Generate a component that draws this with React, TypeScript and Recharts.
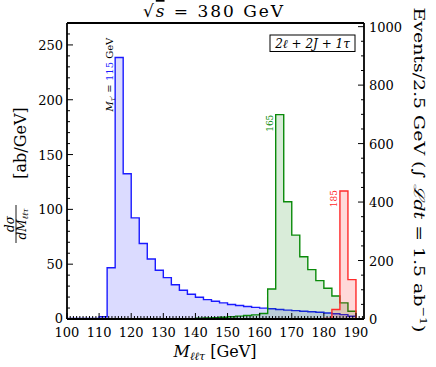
import React from 'react';
import { ComposedChart, Area, XAxis, YAxis, ReferenceDot } from 'recharts';

// left edge of each 2.5 GeV bin (last entry closes the histogram)
const massBins = [100, 102.5, 105, 107.5, 110, 112.5, 115, 117.5, 120, 122.5, 125, 127.5, 130, 132.5, 135, 137.5, 140, 142.5, 145, 147.5, 150, 152.5, 155, 157.5, 160, 162.5, 165, 167.5, 170, 172.5, 175, 177.5, 180, 182.5, 185, 187.5, 190];

// dsigma/dM in ab/GeV
const sig115 = [0.5, 0.5, 0.5, 0.5, 2, 46.8, 238.5, 132.5, 92.2, 68.9, 54.7, 44.4, 37.7, 31.3, 26.2, 22.6, 19.8, 17.7, 16.2, 14.7, 13.2, 12.3, 11.4, 10.6, 9.9, 9.3, 8.7, 8.1, 7.6, 7.1, 6.6, 6.1, 5.5, 4.8, 4.0, 2.5, 0];
const sig165 = [0.2, 0.2, 0.2, 0.2, 0.2, 0.2, 0.2, 0.2, 0.2, 0.2, 0.2, 0.2, 0.2, 0.2, 0.2, 0.2, 0.8, 1.0, 1.3, 1.6, 2.1, 2.6, 3.2, 3.8, 5.0, 27.4, 186.4, 107, 76.5, 56.8, 45, 35, 28, 21, 14.7, 7.1, 0];
const sig185 = [0.2, 0.2, 0.2, 0.2, 0.2, 0.2, 0.2, 0.2, 0.2, 0.2, 0.2, 0.2, 0.2, 0.2, 0.2, 0.2, 0.2, 0.2, 0.2, 0.2, 0.2, 0.2, 0.2, 0.2, 0.2, 0.2, 0.2, 0.2, 0.2, 0.2, 0.2, 0.2, 0.5, 8.6, 116.7, 35.9, 0];

const xMajor = [100, 110, 120, 130, 140, 150, 160, 170, 180, 190];
const leftMajor = [0, 50, 100, 150, 200, 250];
const rightMajor = [0, 200, 400, 600, 800, 1000];

const LUMI_FACTOR = 3.75; // 1.5 ab^-1 * 2.5 GeV
const LEFT_MAX = 270;

const data = massBins.map((m, i) => ({ m, b: sig115[i], g: sig165[i], r: sig185[i] }));

const xTicks = Array.from({ length: 93 }, (_, i) => 100 + i);
const leftTicks = Array.from({ length: 27 }, (_, i) => i * 10);
const rightTicks = Array.from({ length: 21 }, (_, i) => i * 50);

const FONT = '"DejaVu Serif", serif';

function makeTick(side: string, majors: number[], label: boolean) {
  return (props: any) => {
    const { x, y, payload } = props;
    const v = payload.value;
    const major = majors.includes(v);
    const len = major ? 6 : 3;
    let line;
    let txt = null;
    if (side === 'bottom') {
      line = <line x1={x} x2={x} y1={y} y2={y - len} stroke="#000" strokeWidth={1} />;
      if (label && major) txt = <text x={x} y={y + 17.5} textAnchor="middle" fontSize={13} fontFamily={FONT} fill="#000">{v}</text>;
    } else if (side === 'top') {
      line = <line x1={x} x2={x} y1={y} y2={y + len} stroke="#000" strokeWidth={1} />;
    } else if (side === 'left') {
      line = <line x1={x} x2={x + len} y1={y} y2={y} stroke="#000" strokeWidth={1} />;
      if (label && major) txt = <text x={x - 4} y={y + (v === 0 ? 3.5 : 5)} textAnchor="end" fontSize={13} fontFamily={FONT} fill="#000">{v}</text>;
    } else {
      line = <line x1={x} x2={x - len} y1={y} y2={y} stroke="#000" strokeWidth={1} />;
      if (label && major) txt = <text x={x + 5} y={y + 5} textAnchor="start" fontSize={13} fontFamily={FONT} fill="#000">{v}</text>;
    }
    return <g>{line}{txt}</g>;
  };
}

const peakLabel = (content: React.ReactNode, color: string, dx: number, dy: number, anchor: string, size: number) => (p: any) => (
  <text
    transform={`translate(${p.cx + dx},${p.cy + dy}) rotate(-90)`}
    textAnchor={anchor}
    fontSize={size}
    fontFamily={FONT}
    fill={color}
  >
    {content}
  </text>
);

export default function App() {
  const peak115 = Math.max(...sig115);
  const peak165 = Math.max(...sig165);
  const peak185 = Math.max(...sig185);
  const axisStroke = { stroke: '#000', strokeWidth: 1.8 };

  return (
    <div style={{ position: 'absolute', left: 0, top: 0, width: 436, height: 367, background: '#fff' }}>
      <ComposedChart width={436} height={367} data={data} margin={{ top: 0, right: 0, bottom: 0, left: 0 }}>
        <XAxis
          dataKey="m"
          type="number"
          domain={[100, 192.5]}
          ticks={xTicks}
          interval={0}
          height={48}
          tickSize={0}
          tickMargin={0}
          tickLine={false}
          axisLine={axisStroke}
          tick={makeTick('bottom', xMajor, true)}
          allowDataOverflow
        />
        <XAxis
          xAxisId="top"
          orientation="top"
          type="number"
          domain={[100, 192.5]}
          ticks={xTicks}
          interval={0}
          height={23}
          tickSize={0}
          tickMargin={0}
          tickLine={false}
          axisLine={axisStroke}
          tick={makeTick('top', xMajor, false)}
          allowDataOverflow
        />
        <YAxis
          yAxisId="left"
          type="number"
          domain={[0, LEFT_MAX]}
          ticks={leftTicks}
          interval={0}
          width={67}
          tickSize={0}
          tickMargin={0}
          tickLine={false}
          axisLine={axisStroke}
          tick={makeTick('left', leftMajor, true)}
          allowDataOverflow
        />
        <YAxis
          yAxisId="right"
          orientation="right"
          type="number"
          domain={[0, LEFT_MAX * LUMI_FACTOR]}
          ticks={rightTicks}
          interval={0}
          width={72}
          tickSize={0}
          tickMargin={0}
          tickLine={false}
          axisLine={axisStroke}
          tick={makeTick('right', rightMajor, true)}
          allowDataOverflow
        />
        <Area yAxisId="left" type="stepAfter" dataKey="b" stroke="#1a1aff" strokeWidth={1.4} fill="#0000ff" fillOpacity={0.14} dot={false} activeDot={false} isAnimationActive={false} />
        <Area yAxisId="left" type="stepAfter" dataKey="g" stroke="#0a8a0a" strokeWidth={1.4} fill="#008000" fillOpacity={0.15} dot={false} activeDot={false} isAnimationActive={false} />
        <Area yAxisId="left" type="stepAfter" dataKey="r" stroke="#ff2a2a" strokeWidth={1.4} fill="#ff0000" fillOpacity={0.15} dot={false} activeDot={false} isAnimationActive={false} />
        <ReferenceDot
          yAxisId="left"
          x={115}
          y={peak115}
          r={0}
          ifOverflow="visible"
          shape={peakLabel(
            <>
              <tspan fontStyle="italic">M</tspan>
              <tspan fontSize={7} dy={2} fontStyle="italic">τ′</tspan>
              <tspan dy={-2}> = </tspan>
              <tspan fill="#1a1aff">115</tspan>
              <tspan> GeV</tspan>
            </>,
            '#000', -2, 54, 'start', 10)}
        />
        <ReferenceDot
          yAxisId="left"
          x={165}
          y={peak165}
          r={0}
          ifOverflow="visible"
          shape={peakLabel('165', '#0a8a0a', -3, 0, 'end', 9)}
        />
        <ReferenceDot
          yAxisId="left"
          x={185}
          y={peak185}
          r={0}
          ifOverflow="visible"
          shape={peakLabel('185', '#ff2a2a', -3, -1, 'end', 9)}
        />
      </ComposedChart>
      <svg width={436} height={367} style={{ position: 'absolute', left: 0, top: 0, pointerEvents: 'none' }}>
        <text x={213} y={17} textAnchor="middle" fontSize={17} fontFamily={FONT} fill="#000" textLength={140} lengthAdjust="spacing">
          √<tspan fontStyle="italic" textDecoration="overline">s</tspan> = 380 GeV
        </text>
        <rect x={270} y={35} width={85} height={16.5} fill="#fff" stroke="#000" strokeWidth={1} />
        <text x={312.5} y={47.5} textAnchor="middle" fontSize={12} fontFamily={FONT} fontStyle="italic" fill="#000">
          2ℓ + 2J + 1τ
        </text>
        <text x={215} y={357} textAnchor="middle" fontSize={16} fontFamily={FONT} fill="#000">
          <tspan fontStyle="italic">M</tspan>
          <tspan fontSize={11} dy={3} fontStyle="italic">ℓℓτ</tspan>
          <tspan dy={-3}> [GeV]</tspan>
        </text>
        <g transform="translate(26,143) rotate(-90)">
          <text x={0} y={0} textAnchor="middle" fontSize={16} fontFamily={FONT} fill="#000">[ab/GeV]</text>
        </g>
        <g transform="translate(16,224) rotate(-90)">
          <text x={0} y={-2.5} textAnchor="middle" fontSize={12} fontFamily={FONT} fontStyle="italic" fill="#000">dσ</text>
          <line x1={-19} x2={19} y1={0} y2={0} stroke="#000" strokeWidth={0.9} />
          <text x={0} y={10} textAnchor="middle" fontSize={12} fontFamily={FONT} fontStyle="italic" fill="#000">
            dM<tspan fontSize={8} dy={1.5}>ℓℓτ</tspan>
          </text>
        </g>
        <g transform="translate(414,170) rotate(90)">
          <text x={0} y={0} textAnchor="middle" fontSize={15} fontFamily={FONT} fill="#000" textLength={325} lengthAdjust="spacingAndGlyphs">
            Events/2.5 GeV (∫ <tspan fontStyle="italic">ℒdt</tspan> = 1.5 ab<tspan fontSize={10} dy={-6}>−1</tspan><tspan dy={6}>)</tspan>
          </text>
        </g>
      </svg>
    </div>
  );
}
